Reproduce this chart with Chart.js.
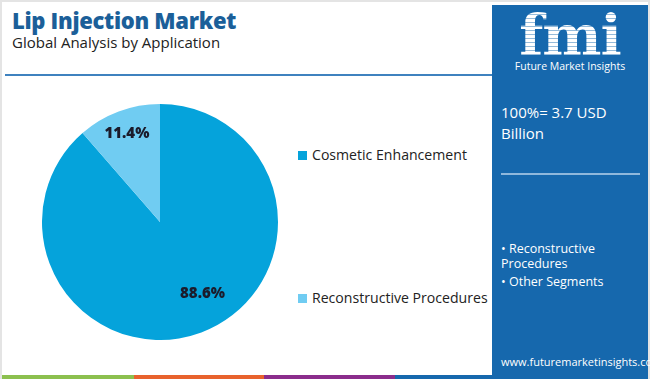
<!DOCTYPE html>
<html>
<head>
<meta charset="utf-8">
<script src="https://cdn.jsdelivr.net/npm/chart.js@4.4.1/dist/chart.umd.min.js"></script>
<style>
  html, body { margin:0; padding:0; }
  body { width:650px; height:379px; position:relative; overflow:hidden; background:#fff; font-family:"Open Sans", "Noto Sans", sans-serif; }
  #frame { position:absolute; left:0; top:0; width:646px; height:377px; border:2px solid #e4e4e4; border-bottom:none; box-sizing:content-box; }
  #title { position:absolute; left:12px; top:5px; font-size:22px; font-weight:800; color:#1b5f99; letter-spacing:-0.3px; }
  #subtitle { position:absolute; left:12px; top:32px; font-size:15px; color:#222; }
  #topline { position:absolute; left:5px; top:74px; width:487px; height:2px; background:#3f82bf; }
  #chartbox { position:absolute; left:42px; top:104px; width:236px; height:236px; }
  .leg { position:absolute; font-size:14.1px; color:#222; white-space:nowrap; }
  .leg i { display:inline-block; width:9px; height:9px; margin-right:5px; vertical-align:0px; }
  #panel { position:absolute; left:492px; top:5px; width:156px; height:374px; background:#1668ad; color:#fff; }
  #logo { position:absolute; left:0; top:2px; width:156px; text-align:center; font-family:"DejaVu Serif", serif; font-weight:bold; font-size:56px; line-height:56px; letter-spacing:-1px;
    background: repeating-linear-gradient(to bottom, #fff 0px, #fff 3px, rgba(255,255,255,0.55) 3px, rgba(255,255,255,0.55) 4px);
    -webkit-background-clip:text; background-clip:text; color:transparent; }
  #logosub { position:absolute; left:0; top:54px; width:156px; text-align:center; font-size:10.5px; color:#fff; }
  #total { position:absolute; left:9px; top:97px; font-size:15px; line-height:21px; }
  #pline { position:absolute; left:9px; top:168px; width:139px; height:2px; background:#8fb8dc; }
  #bullets { position:absolute; left:9px; top:236px; font-size:12.5px; line-height:15px; }
  #url { position:absolute; left:9px; top:349px; font-size:11px; }
  .bar { position:absolute; top:375px; height:4px; }
</style>
</head>
<body>
<div id="frame"></div>
<div id="title">Lip Injection Market</div>
<div id="subtitle">Global Analysis by Application</div>
<div id="topline"></div>
<div id="chartbox"><canvas id="c"></canvas></div>
<div id="legend"></div>
<div class="bar" style="left:2px;width:132px;background:#8cc04f"></div>
<div class="bar" style="left:134px;width:130px;background:#e8622d"></div>
<div class="bar" style="left:264px;width:131px;background:#8b2d8c"></div>
<div class="bar" style="left:395px;width:97px;background:#1668ad"></div>
<div id="panel">
  <div id="logo">fmi</div>
  <div id="logosub">Future Market Insights</div>
  <div id="total">100%= 3.7 USD<br>Billion</div>
  <div id="pline"></div>
  <div id="bullets">• Reconstructive<br>Procedures<div style="height:3px"></div>• Other Segments</div>
  <div id="url">www.futuremarketinsights.com</div>
</div>
<script>
const categories = ["Cosmetic Enhancement", "Reconstructive Procedures"];
const shares = [88.6, 11.4];
const sliceColors = ["#05a3db", "#70ccf2"];
const labelRadius = [0.71, 0.80];
const labelAngleShift = [-10, 0];
const legendTops = [145, 288];

const leg = document.getElementById('legend');
categories.forEach((name, i) => {
  const d = document.createElement('div');
  d.className = 'leg';
  d.style.left = '298px';
  d.style.top = legendTops[i] + 'px';
  d.innerHTML = '<i style="background:' + sliceColors[i] + '"></i>' + name;
  leg.appendChild(d);
});

const pctLabels = {
  id: 'pctLabels',
  afterDatasetsDraw(chart) {
    const ctx = chart.ctx;
    const meta = chart.getDatasetMeta(0);
    ctx.save();
    ctx.font = '800 15px "Open Sans", sans-serif';
    ctx.fillStyle = '#1b1b2b';
    ctx.textAlign = 'center';
    ctx.textBaseline = 'middle';
    meta.data.forEach((arc, i) => {
      const p = arc.getProps(['x','y','startAngle','endAngle','outerRadius'], true);
      const mid = (p.startAngle + p.endAngle) / 2 + labelAngleShift[i] * Math.PI / 180;
      const r = p.outerRadius * labelRadius[i];
      ctx.fillText(shares[i].toFixed(1) + '%', p.x + Math.cos(mid) * r, p.y + Math.sin(mid) * r);
    });
    ctx.restore();
  }
};

new Chart(document.getElementById('c'), {
  type: 'pie',
  data: {
    labels: categories,
    datasets: [{ data: shares, backgroundColor: sliceColors, borderWidth: 0 }]
  },
  options: {
    responsive: true,
    maintainAspectRatio: false,
    animation: false,
    layout: { padding: 0 },
    plugins: { legend: { display: false }, tooltip: { enabled: false } }
  },
  plugins: [pctLabels]
});
</script>
</body>
</html>
